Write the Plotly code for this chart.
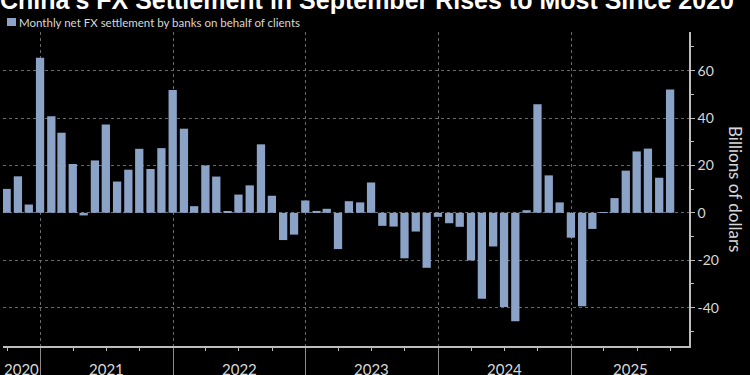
import pandas as pd
import plotly.graph_objects as go

# Monthly net FX settlement by banks on behalf of clients (USD bn), Sep 2020 - Sep 2025
months = pd.date_range("2020-09-30", "2025-09-30", freq="ME")
values = [
    10.1, 15.4, 3.5, 65.4,                                                  # 2020 Sep-Dec
    40.8, 33.8, 20.6, -1.1, 22.1, 37.3, 13.2, 18.2, 27.0, 18.5, 27.3, 51.8,  # 2021
    35.5, 2.8, 20.0, 15.3, 0.7, 7.7, 11.6, 28.9, 7.2, -11.5, -9.2, 5.2,      # 2022
    0.8, 1.7, -15.3, 4.9, 4.4, 12.8, -5.5, -5.8, -19.2, -7.9, -23.2, -1.7,   # 2023
    -4.4, -5.9, -20.1, -36.3, -14.2, -39.7, -45.8, 1.1, 45.8, 15.8, 4.4, -10.5,  # 2024
    -39.4, -6.8, 0.3, 6.2, 17.8, 25.9, 27.1, 14.8, 52.0,                     # 2025 Jan-Sep
]
year_labels = ["2020", "2021", "2022", "2023", "2024", "2025"]
y_ticks = [-40, -20, 0, 20, 40, 60]

title_text = "China's FX Settlement in September Rises to Most Since 2020"
legend_text = "Monthly net FX settlement by banks on behalf of clients"
y_title = "Billions of dollars"

x_start = pd.Timestamp("2020-09-20")
x_end = pd.Timestamp("2025-11-21")

BAR = "#8ca3c8"
GRID = "#6a6a6a"
AXIS = "#bdbdbd"
TXT = "#d8d8d8"
FONT = "Lato"

fig = go.Figure()
fig.add_trace(go.Bar(
    x=months, y=values, marker=dict(color=BAR, line=dict(width=0)),
    width=22.8 * 86400000, showlegend=False,
))

annotations = []
# year labels centred in the visible portion of each year
for lab in year_labels:
    y0 = max(pd.Timestamp(f"{lab}-01-01"), x_start)
    y1 = min(pd.Timestamp(f"{int(lab) + 1}-01-01"), x_end)
    mid = y0 + (y1 - y0) / 2
    annotations.append(dict(
        x=mid, xref="x", y=0, yref="paper", yanchor="top", yshift=-12,
        text=lab, showarrow=False, font=dict(family=FONT, size=15, color=TXT),
    ))

annotations.append(dict(
    x=0, xref="paper", xshift=-5, y=1, yref="paper", yshift=16,
    xanchor="left", yanchor="bottom", text=f"<b>{title_text}</b>", showarrow=False,
    font=dict(family="Liberation Sans", size=25, color="#ffffff"),
))
annotations.append(dict(
    x=0, xref="paper", xshift=14, y=1, yref="paper", yshift=10,
    xanchor="left", yanchor="middle",
    text=legend_text, showarrow=False, font=dict(family=FONT, size=11.5, color=TXT),
))
annotations.append(dict(
    x=1, xref="paper", xshift=47, xanchor="center", y=0.5, yref="paper",
    yanchor="middle", textangle=90,
    text=y_title, showarrow=False, font=dict(family=FONT, size=17, color=TXT),
))

# legend swatch (pixel-sized, anchored to the plot's top-left corner)
shapes = [dict(
    type="rect", xref="paper", yref="paper",
    xsizemode="pixel", ysizemode="pixel", xanchor=0, yanchor=1,
    x0=4, x1=13, y0=6, y1=14,
    fillcolor=BAR, line=dict(width=0),
)]

fig.update_layout(
    width=750, height=375,
    margin=dict(l=3, r=61, t=32, b=29),
    paper_bgcolor="#000000", plot_bgcolor="#000000",
    bargap=0.18,
    annotations=annotations,
    shapes=shapes,
    xaxis=dict(
        type="date", range=[x_start, x_end], automargin=False,
        tick0="2021-01-01", dtick="M12",
        showgrid=True, gridcolor=GRID, griddash="dot", gridwidth=1,
        ticks="outside", ticklen=30, tickcolor="#8a8a8a", tickwidth=1,
        showticklabels=False,
        showline=True, linecolor=AXIS, linewidth=1.5,
        minor=dict(dtick="M3", tick0="2021-01-01", ticks="outside", ticklen=3,
                   tickcolor=AXIS, showgrid=False),
        zeroline=False,
    ),
    yaxis=dict(
        side="right", range=[-56.2, 76.3], automargin=False,
        tickvals=y_ticks, ticktext=[str(v) for v in y_ticks],
        showgrid=True, gridcolor=GRID, griddash="dot", gridwidth=1,
        zeroline=False,
        ticks="outside", ticklen=4, tickcolor=AXIS,
        minor=dict(dtick=10, tick0=0, ticks="outside", ticklen=3, tickcolor=AXIS, showgrid=False),
        showline=True, linecolor=AXIS, linewidth=1.5,
        tickfont=dict(family=FONT, size=14, color=TXT),
    ),
)

fig.write_html("out.html", config={"displayModeBar": False},
               post_script="document.body.style.margin='0';")
